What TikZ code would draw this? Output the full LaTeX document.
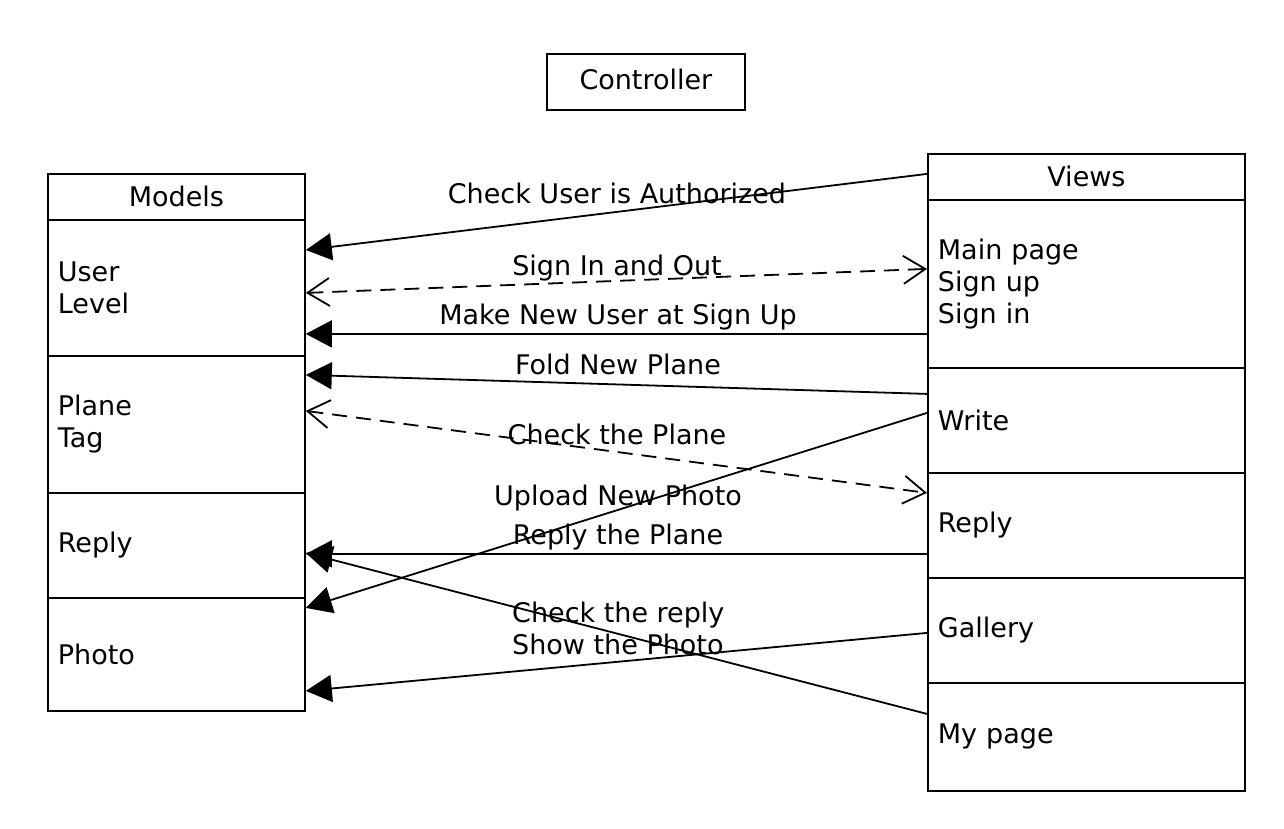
\documentclass[tikz,border=0pt]{standalone}
\usepackage{fontspec}
\setmainfont{DejaVu Sans}
\usetikzlibrary{arrows.meta}
\begin{document}
\begin{tikzpicture}[x=1pt,y=-1pt,
  every node/.style={font=\fontsize{27}{32}\selectfont},
  box/.style={draw,line width=1.8pt,rectangle,anchor=north west,inner ysep=0pt},
  headbox/.style={box,align=center,inner xsep=0pt},
  compart/.style={box,align=left,inner xsep=10pt},
  lbl/.style={anchor=base,inner sep=0pt},
  conn/.style={line width=1.8pt,-{Triangle[length=26pt,width=27pt]}},
  dconn/.style={line width=1.8pt,dash pattern=on 15pt off 9pt,
     {Straight Barb[length=22pt,width=28pt]}-{Straight Barb[length=22pt,width=28pt]}}
]
\useasboundingbox (0,0) rectangle (1284,828);

% Controller
\node[headbox,minimum width=198pt,minimum height=56pt,text depth=6pt] (ctrl) at (546,53) {Controller};

% Models
\node[headbox,minimum width=257pt,minimum height=46pt] (mHead) at (47,173) {Models};
\node[compart,text width=237pt,minimum height=136pt] (mUser) at (47,219) {User\\Level};
\node[compart,text width=237pt,minimum height=137pt] (mPlane) at (47,355) {Plane\\Tag};
\node[compart,text width=237pt,minimum height=105pt] (mReply) at (47,492) {Reply};
\node[compart,text width=237pt,minimum height=113pt] (mPhoto) at (47,597) {Photo};

% Views
\node[headbox,minimum width=317pt,minimum height=46pt] (vHead) at (927,153) {Views};
\node[compart,text width=297pt,minimum height=168pt] (vMain) at (927,199) {Main page\\Sign up\\Sign in};
\node[compart,text width=297pt,minimum height=105pt] (vWrite) at (927,367) {Write};
\node[compart,text width=297pt,minimum height=105pt] (vReply) at (927,472) {Reply};
\node[compart,text width=297pt,minimum height=105pt] (vGallery) at (927,577) {Gallery};
\node[compart,text width=297pt,minimum height=108pt] (vMy) at (927,682) {My page};

% Connectors
\draw[conn] ([yshift=3pt]vHead.west) -- ([yshift=-31pt]mUser.north east);
\draw[dconn] ([yshift=-5pt]mUser.east) -- ([yshift=15pt]vMain.west);
\draw[conn] ([yshift=-50pt]vMain.west) -- ([yshift=-46pt]mUser.east);
\draw[conn] ([yshift=26.5pt]vWrite.west) -- ([yshift=49.5pt]mPlane.east);
\draw[dconn] ([yshift=13.5pt]mPlane.east) -- ([yshift=32.5pt]vReply.west);
\draw[conn] ([yshift=7.5pt]vWrite.west) -- ([yshift=46.5pt]mPhoto.east);
\draw[conn] ([yshift=-28.5pt]vReply.west) -- ([yshift=-8.5pt]mReply.east);
\draw[conn] ([yshift=23pt]vMy.west) -- ([yshift=-7.5pt]mReply.east);
\draw[conn] ([yshift=-2.5pt]vGallery.west) -- ([yshift=-36.5pt]mPhoto.east);

% Labels
\node[lbl] (l1) at (617,203) {Check User is Authorized};
\node[lbl] (l2) at (617,275) {Sign In and Out};
\node[lbl] (l3) at (618,324) {Make New User at Sign Up};
\node[lbl] (l4) at (618,374) {Fold New Plane};
\node[lbl] (l5) at (617,444) {Check the Plane};
\node[lbl] (l6) at (618,505) {Upload New Photo};
\node[lbl] (l7) at (618,544) {Reply the Plane};
\node[lbl,anchor=base west] (l8) at (512,622) {Check the reply};
\node[lbl,anchor=base west] (l9) at (512,654) {Show the Photo};
\end{tikzpicture}
\end{document}
